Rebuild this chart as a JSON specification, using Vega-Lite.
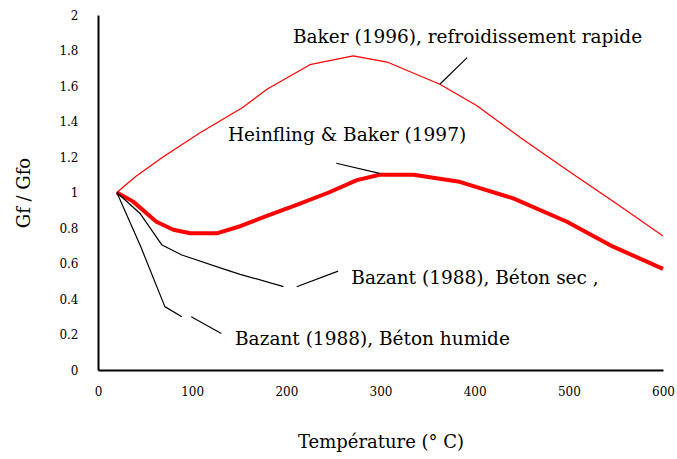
{
  "$schema": "https://vega.github.io/schema/vega-lite/v6.json",
  "width": 565,
  "height": 355,
  "autosize": {"type": "none"},
  "padding": {"left": 98, "top": 15, "right": 14, "bottom": 89},
  "background": "white",
  "config": {
    "view": {"stroke": null},
    "axis": {
      "grid": false,
      "domainColor": "black",
      "domainWidth": 2,
      "tickColor": "black",
      "tickWidth": 1.5,
      "labelColor": "black",
      "labelFont": "DejaVu Serif",
      "labelFontSize": 12,
      "labelOverlap": false,
      "labelFlush": false,
      "titleColor": "black",
      "titleFont": "DejaVu Serif",
      "titleFontSize": 18,
      "titleFontWeight": "normal"
    },
    "axisY": {"labelOverlap": false, "labelSeparation": 0}
  },
  "datasets": {
    "curves": [
      {"series": "Baker 1996", "T": 20, "r": 1.0},
      {"series": "Baker 1996", "T": 40, "r": 1.09},
      {"series": "Baker 1996", "T": 69, "r": 1.2},
      {"series": "Baker 1996", "T": 108, "r": 1.335},
      {"series": "Baker 1996", "T": 154, "r": 1.48},
      {"series": "Baker 1996", "T": 179, "r": 1.58},
      {"series": "Baker 1996", "T": 225, "r": 1.72},
      {"series": "Baker 1996", "T": 271, "r": 1.77},
      {"series": "Baker 1996", "T": 307, "r": 1.735},
      {"series": "Baker 1996", "T": 363, "r": 1.61},
      {"series": "Baker 1996", "T": 402, "r": 1.49},
      {"series": "Baker 1996", "T": 451, "r": 1.3},
      {"series": "Baker 1996", "T": 500, "r": 1.12},
      {"series": "Baker 1996", "T": 550, "r": 0.94},
      {"series": "Baker 1996", "T": 600, "r": 0.755},
      {"series": "Heinfling 1997", "T": 20, "r": 1.0},
      {"series": "Heinfling 1997", "T": 37, "r": 0.95},
      {"series": "Heinfling 1997", "T": 62, "r": 0.835},
      {"series": "Heinfling 1997", "T": 80, "r": 0.79},
      {"series": "Heinfling 1997", "T": 98, "r": 0.77},
      {"series": "Heinfling 1997", "T": 126, "r": 0.77},
      {"series": "Heinfling 1997", "T": 151, "r": 0.81},
      {"series": "Heinfling 1997", "T": 180, "r": 0.87},
      {"series": "Heinfling 1997", "T": 211, "r": 0.93},
      {"series": "Heinfling 1997", "T": 245, "r": 1.0},
      {"series": "Heinfling 1997", "T": 275, "r": 1.07},
      {"series": "Heinfling 1997", "T": 299, "r": 1.1},
      {"series": "Heinfling 1997", "T": 335, "r": 1.1},
      {"series": "Heinfling 1997", "T": 384, "r": 1.06},
      {"series": "Heinfling 1997", "T": 441, "r": 0.967},
      {"series": "Heinfling 1997", "T": 498, "r": 0.835},
      {"series": "Heinfling 1997", "T": 547, "r": 0.695},
      {"series": "Heinfling 1997", "T": 600, "r": 0.57},
      {"series": "Bazant sec", "T": 20, "r": 1.0},
      {"series": "Bazant sec", "T": 45, "r": 0.88},
      {"series": "Bazant sec", "T": 68, "r": 0.704},
      {"series": "Bazant sec", "T": 89, "r": 0.648},
      {"series": "Bazant sec", "T": 137, "r": 0.563},
      {"series": "Bazant sec", "T": 151, "r": 0.539},
      {"series": "Bazant sec", "T": 197, "r": 0.47},
      {"series": "Bazant humide", "T": 20, "r": 1.0},
      {"series": "Bazant humide", "T": 45, "r": 0.7},
      {"series": "Bazant humide", "T": 71, "r": 0.357},
      {"series": "Bazant humide", "T": 89, "r": 0.3}
    ],
    "leaders": [
      {"id": "a", "T": 363, "r": 1.61},
      {"id": "a", "T": 392, "r": 1.76},
      {"id": "b", "T": 253, "r": 1.165},
      {"id": "b", "T": 299, "r": 1.108},
      {"id": "c", "T": 211, "r": 0.469},
      {"id": "c", "T": 255, "r": 0.557},
      {"id": "d", "T": 99, "r": 0.3},
      {"id": "d", "T": 131, "r": 0.206}
    ],
    "labels": [
      {"text": "Baker (1996), refroidissement rapide", "T": 207, "r": 1.878},
      {"text": "Heinfling & Baker (1997)", "T": 138, "r": 1.324},
      {"text": "Bazant (1988), Béton sec ,", "T": 269, "r": 0.518},
      {"text": "Bazant (1988), Béton humide", "T": 145.5, "r": 0.175}
    ],
    "yticks": [
      {"r": 0}, {"r": 0.2}, {"r": 0.4}, {"r": 0.6}, {"r": 0.8}, {"r": 1},
      {"r": 1.2}, {"r": 1.4}, {"r": 1.6}, {"r": 1.8}, {"r": 2}
    ],
    "xticks": [
      {"T": 0}, {"T": 100}, {"T": 200}, {"T": 300}, {"T": 400}, {"T": 500}, {"T": 600}
    ]
  },
  "encoding": {
    "x": {
      "field": "T", "type": "quantitative",
      "scale": {"domain": [0, 600], "nice": false},
      "axis": {"values": [0, 100, 200, 300, 400, 500, 600], "ticks": false, "labelPadding": 16, "labelFlush": false, "title": "Température (° C)", "titlePadding": 36}
    },
    "y": {
      "field": "r", "type": "quantitative",
      "scale": {"domain": [0, 2], "nice": false},
      "axis": {"values": [0, 0.2, 0.4, 0.6, 0.8, 1, 1.2, 1.4, 1.6, 1.8, 2], "labelExpr": "format(datum.value, '.1~f')", "ticks": false, "labelPadding": 20, "labelOverlap": false, "labelSeparation": 0, "labelFlush": false, "title": "Gf / Gfo", "titlePadding": 25}
    }
  },
  "layer": [
    {
      "data": {"name": "yticks"},
      "mark": {"type": "rule", "color": "black", "strokeWidth": 1.5},
      "encoding": {"x": {"datum": 0}, "x2": {"datum": 8}}
    },
    {
      "data": {"name": "xticks"},
      "mark": {"type": "rule", "color": "black", "strokeWidth": 1.5},
      "encoding": {"y": {"datum": -0.025}, "y2": {"datum": 0.025}}
    },
    {
      "data": {"name": "curves"},
      "transform": [{"filter": "datum.series === 'Baker 1996'"}],
      "mark": {"type": "line", "color": "#ff0000", "strokeWidth": 1.2, "strokeJoin": "round"}
    },
    {
      "data": {"name": "curves"},
      "transform": [{"filter": "datum.series === 'Heinfling 1997'"}],
      "mark": {"type": "line", "color": "#ff0000", "strokeWidth": 4, "strokeJoin": "round"}
    },
    {
      "data": {"name": "curves"},
      "transform": [{"filter": "datum.series === 'Bazant sec' || datum.series === 'Bazant humide'"}],
      "mark": {"type": "line", "color": "black", "strokeWidth": 1.2, "strokeJoin": "round"},
      "encoding": {"detail": {"field": "series"}}
    },
    {
      "data": {"name": "leaders"},
      "mark": {"type": "line", "color": "black", "strokeWidth": 1.2},
      "encoding": {"detail": {"field": "id"}}
    },
    {
      "data": {"name": "labels"},
      "mark": {"type": "text", "align": "left", "baseline": "middle", "font": "DejaVu Serif", "fontSize": 18.5, "color": "black"},
      "encoding": {"text": {"field": "text"}}
    }
  ]
}
